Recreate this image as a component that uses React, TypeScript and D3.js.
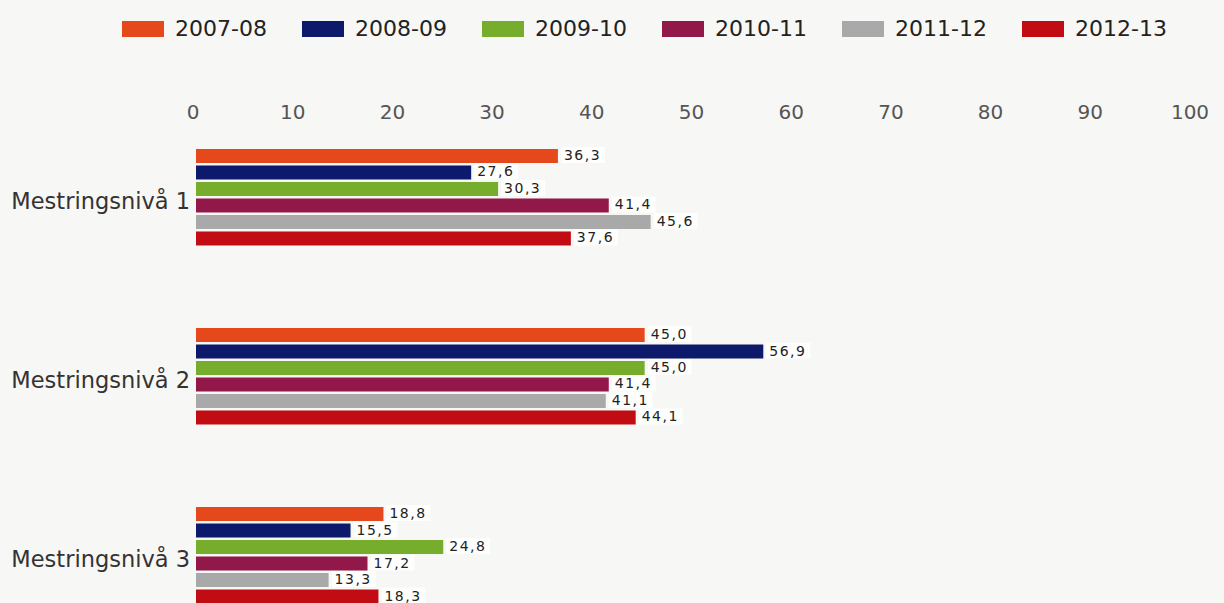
import { useEffect, useRef } from 'react'
import * as d3 from 'd3'

const WIDTH = 1224
const HEIGHT = 603

const CATEGORIES = ['Mestringsnivå 1', 'Mestringsnivå 2', 'Mestringsnivå 3']
const SERIES = ['2007-08', '2008-09', '2009-10', '2010-11', '2011-12', '2012-13']
const SERIES_COLORS = ['#e5481b', '#0d1a6b', '#77ad2c', '#911848', '#a9a9a9', '#c00c12']

const VALUES_2007_08 = [36.3, 45.0, 18.8]
const VALUES_2008_09 = [27.6, 56.9, 15.5]
const VALUES_2009_10 = [30.3, 45.0, 24.8]
const VALUES_2010_11 = [41.4, 41.4, 17.2]
const VALUES_2011_12 = [45.6, 41.1, 13.3]
const VALUES_2012_13 = [37.6, 44.1, 18.3]

const SERIES_VALUES = [
  VALUES_2007_08,
  VALUES_2008_09,
  VALUES_2009_10,
  VALUES_2010_11,
  VALUES_2011_12,
  VALUES_2012_13,
]

const X_TICKS = [0, 10, 20, 30, 40, 50, 60, 70, 80, 90, 100]

const FONT = '"DejaVu Sans", Verdana, sans-serif'

interface BarDatum {
  category: string
  series: string
  color: string
  value: number
}

function formatValue(value: number) {
  return value.toFixed(1).replace('.', ',')
}

export default function App() {
  const svgRef = useRef<SVGSVGElement | null>(null)

  useEffect(() => {
    if (!svgRef.current) {
      return
    }

    const svg = d3.select(svgRef.current)
    svg.selectAll('*').remove()

    svg
      .append('rect')
      .attr('width', WIDTH)
      .attr('height', HEIGHT)
      .attr('fill', '#f7f7f5')

    const x = d3.scaleLinear().domain([0, 100]).range([196, 1193])

    const y = d3
      .scaleBand<string>()
      .domain(CATEGORIES)
      .range([107.75, 644.75])
      .paddingInner(0.461)
      .paddingOuter(0.2304)

    const inner = d3
      .scaleBand<string>()
      .domain(SERIES)
      .range([0, y.bandwidth()])
      .paddingInner(0.1515)

    const color = d3.scaleOrdinal<string, string>().domain(SERIES).range(SERIES_COLORS)

    // legend
    const legendItemWidth = 42 + 11 + 92 + 35
    const legend = svg
      .append('g')
      .attr('transform', 'translate(122, 21)')
      .selectAll('g.legend-item')
      .data(SERIES)
      .enter()
      .append('g')
      .attr('class', 'legend-item')
      .attr('transform', (_: string, index: number) => `translate(${index * legendItemWidth}, 0)`)

    legend
      .append('rect')
      .attr('width', 42)
      .attr('height', 16)
      .attr('fill', (series: string) => color(series))

    legend
      .append('text')
      .attr('x', 53)
      .attr('y', 15)
      .attr('font-family', FONT)
      .attr('font-size', 22)
      .attr('fill', '#222')
      .text((series: string) => series)

    // top axis labels
    svg
      .append('g')
      .selectAll('text.tick')
      .data(X_TICKS)
      .enter()
      .append('text')
      .attr('class', 'tick')
      .attr('x', (tick: number) => x(tick) - 3)
      .attr('y', 119)
      .attr('text-anchor', 'middle')
      .attr('font-family', FONT)
      .attr('font-size', 20)
      .attr('fill', '#555')
      .text((tick: number) => String(tick))

    // category labels
    svg
      .append('g')
      .selectAll('text.category')
      .data(CATEGORIES)
      .enter()
      .append('text')
      .attr('class', 'category')
      .attr('x', 190)
      .attr('y', (category: string) => (y(category) ?? 0) + y.bandwidth() / 2 + 4)
      .attr('dominant-baseline', 'central')
      .attr('text-anchor', 'end')
      .attr('font-family', FONT)
      .attr('font-size', 22.5)
      .attr('fill', '#333')
      .text((category: string) => category)

    const bars: BarDatum[] = CATEGORIES.flatMap((category, categoryIndex) =>
      SERIES.map((series, seriesIndex) => ({
        category,
        series,
        color: SERIES_COLORS[seriesIndex],
        value: SERIES_VALUES[seriesIndex][categoryIndex],
      })),
    )

    const barY = (datum: BarDatum) => (y(datum.category) ?? 0) + (inner(datum.series) ?? 0)

    svg
      .append('g')
      .selectAll('rect.bar')
      .data(bars)
      .enter()
      .append('rect')
      .attr('class', 'bar')
      .attr('x', x(0))
      .attr('y', barY)
      .attr('width', (datum: BarDatum) => x(datum.value) - x(0))
      .attr('height', inner.bandwidth())
      .attr('fill', (datum: BarDatum) => datum.color)

    const labels = svg
      .append('g')
      .selectAll('g.value-label')
      .data(bars)
      .enter()
      .append('g')
      .attr('class', 'value-label')
      .attr(
        'transform',
        (datum: BarDatum) =>
          `translate(${x(datum.value) + 6}, ${barY(datum) + inner.bandwidth() / 2 - 1})`,
      )

    labels
      .append('rect')
      .attr('x', -3)
      .attr('y', -8)
      .attr('width', 44)
      .attr('height', 16)
      .attr('fill', '#ffffff')
      .attr('opacity', 0.8)

    labels
      .append('text')
      .attr('dominant-baseline', 'central')
      .attr('font-family', FONT)
      .attr('font-size', 14)
      .attr('letter-spacing', 1.5)
      .attr('fill', '#222')
      .text((datum: BarDatum) => formatValue(datum.value))
  }, [])

  return (
    <svg
      ref={svgRef}
      width={WIDTH}
      height={HEIGHT}
      style={{ position: 'absolute', left: 0, top: 0, display: 'block' }}
      role="img"
      aria-label="Mestringsnivå per skoleår"
    />
  )
}
